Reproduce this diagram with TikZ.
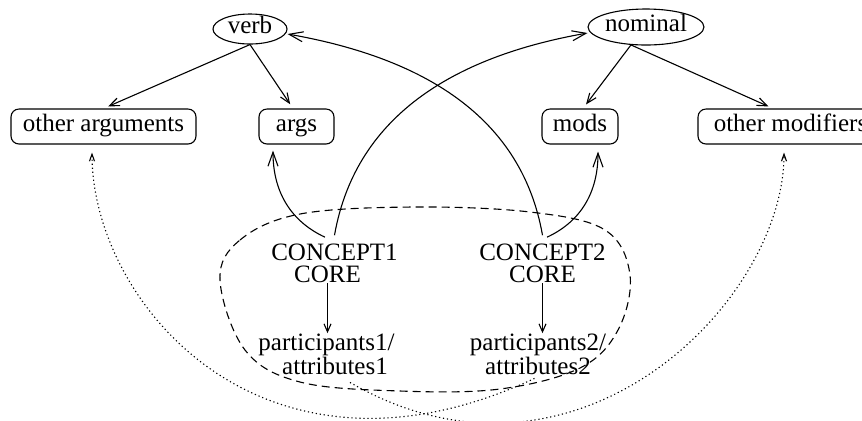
\documentclass[tikz,border=0pt]{standalone}
\usepackage{fontspec}
\setmainfont{Liberation Serif}
\usetikzlibrary{arrows.meta,shapes.geometric}
\begin{document}
\begin{tikzpicture}[x=0.5pt,y=-0.5pt,
  every node/.style={font=\fontsize{12.5}{11.3}\selectfont, inner sep=0pt},
  lbl/.style={align=center},
  box/.style={draw, line width=0.55pt, rounded corners=4pt, minimum height=17.5pt,
              text height=0.7em, text depth=0.25em},
  oval/.style={draw, line width=0.55pt, ellipse, text height=0.55em, text depth=0.15em},
  link/.style={line width=0.55pt},
  tree/.style={link, -{Straight Barb[length=5pt,width=4pt]}, shorten >=2.5pt},
  arc/.style={link, -{Straight Barb[length=7pt,width=5pt]}},
  core/.style={link, -{Straight Barb[length=4pt,width=3.5pt]}},
  hint/.style={link, dash pattern=on 0.6pt off 1.4pt, -{Straight Barb[length=3.5pt,width=2.5pt]}},
  group/.style={link, dash pattern=on 4pt off 2.5pt}
]
\useasboundingbox (0,0) rectangle (862,420);
\clip (0,0) rectangle (862,420);

% part-of-speech heads
\node[oval, minimum width=37pt, minimum height=15pt] (verb) at (250,29) {verb};
\node[oval, minimum width=57.5pt, minimum height=18pt] (nominal) at (646,27) {nominal};

% dependents
\node[box, minimum width=92.5pt] (oargs) at (103.5,126.5) {other arguments};
\node[box, minimum width=37.5pt] (args)  at (296.5,126.5) {args};
\node[box, minimum width=38pt]   (mods)  at (580,126.5)   {mods};
\node[box, minimum width=92.5pt] (omods) at (790.5,126.5) {other modifiers};

% concept cores and their participants
\node[lbl] (c1) at (334.5,263.3) {CONCEPT1\\CORE\rule{7pt}{0pt}};
\node[lbl] (c2) at (542.5,263.3) {CONCEPT2\\CORE};
\node[lbl] (p1) at (335,354.3) {participants1/\rule{8.5pt}{0pt}\\attributes1};
\node[lbl] (p2) at (538,354.3) {participants2/\\attributes2};

% grouping outline
\draw[group] plot[smooth cycle, tension=0.6] coordinates {(220,280) (240,240) (300,214) (413,207) (530,212) (605,230) (630,275) (618,330) (580,368) (500,389) (400,391) (300,382) (245,350)};

% head to dependents
\draw[tree] (verb.south) -- (oargs.north);
\draw[tree] (verb.south) -- ([xshift=-1.75pt]args.north);
\draw[tree] (nominal.-130) -- ([xshift=1.5pt]mods.north);
\draw[tree] (nominal.-130) -- ([xshift=-8.75pt]omods.north);

% realisation arcs
\draw[arc] ([xshift=-4.75pt,yshift=3pt]c1.north) to[out=155,in=-90] ([xshift=-11.75pt,yshift=-3pt]args.south);
\draw[arc] ([yshift=4pt]c1.north) to[out=80,in=190] ([yshift=-3pt]nominal.west);
\draw[arc] ([yshift=4pt]c2.north) to[out=100,in=-10] ([yshift=-2.5pt]verb.east);
\draw[arc] ([xshift=2.25pt,yshift=3pt]c2.north) to[out=25,in=-90] ([xshift=9pt,yshift=-3.5pt]mods.south);

% core to participants
\coordinate (a1) at ([xshift=-3.5pt]c1.south);
\coordinate (a2) at (c2.south);
\draw[core] (a1) -- (a1 |- p1.north);
\draw[core] (a2) -- (a2 |- p2.north);

% participants to the remaining dependents
\draw[hint] ([xshift=7.5pt,yshift=-3.5pt]p1.south) .. controls +(-30:130pt) and +(-90:75pt) .. ([xshift=-3.25pt,yshift=-4pt]omods.south);
\draw[hint] ([xshift=-1.75pt,yshift=-1.5pt]p2.south) .. controls +(205:150pt) and +(-90:75pt) .. ([xshift=-5.75pt,yshift=-4pt]oargs.south);
\end{tikzpicture}
\end{document}
